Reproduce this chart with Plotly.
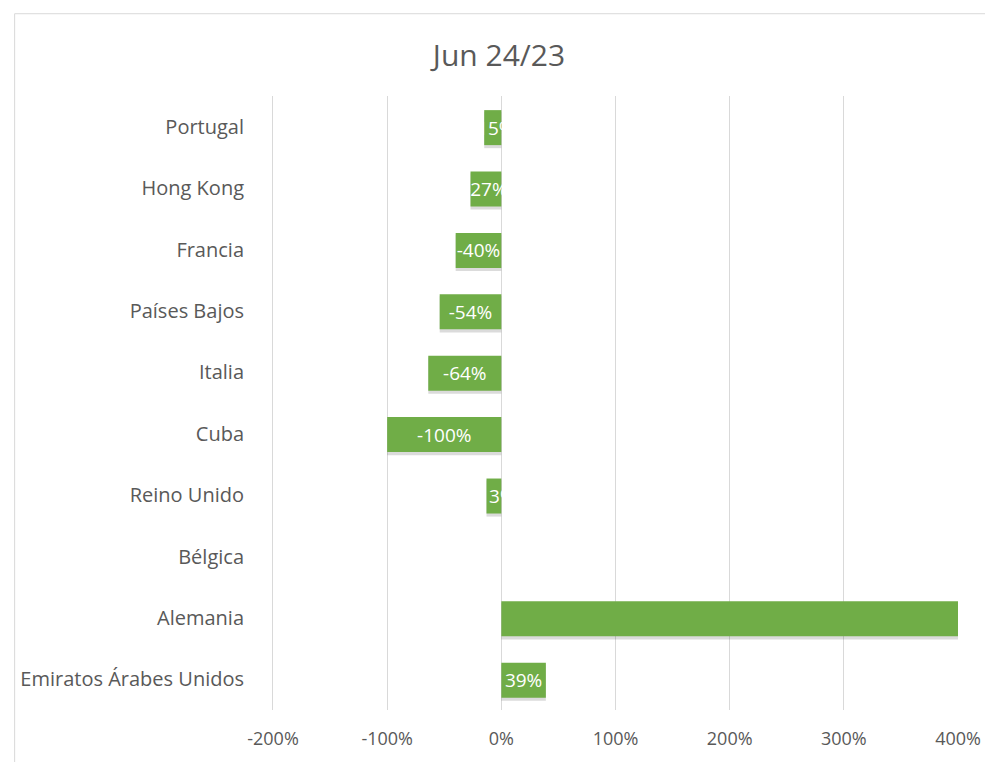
import plotly.graph_objects as go

# Jun 24/23 - variación por país (%)
paises = [
    "Emiratos Árabes Unidos",
    "Alemania",
    "Bélgica",
    "Reino Unido",
    "Cuba",
    "Italia",
    "Países Bajos",
    "Francia",
    "Hong Kong",
    "Portugal",
]
variacion = [39, 560, 0, -13, -100, -64, -54, -40, -27, -15]

ticks_x = [-200, -100, 0, 100, 200, 300, 400]
ticks_x_texto = ["-200%", "-100%", "0%", "100%", "200%", "300%", "400%"]

eje_min = -200
eje_max = 400

etiquetas = [f"{v}%" if eje_min < v < eje_max else "" for v in variacion]

fuente = "Open Sans"

fig = go.Figure()

# sombra
fig.add_trace(go.Bar(
    y=paises,
    x=variacion,
    orientation="h",
    width=0.59,
    offset=-0.35,
    marker=dict(color="rgba(0,0,0,0.14)", line=dict(width=0)),
    hoverinfo="skip",
    showlegend=False,
))

fig.add_trace(go.Bar(
    y=paises,
    x=variacion,
    orientation="h",
    width=0.57,
    offset=-0.3,
    text=etiquetas,
    textposition="inside",
    insidetextanchor="middle",
    textangle=0,
    textfont=dict(color="white", size=19, family=fuente),
    marker=dict(color="#70AD47", line=dict(width=0)),
    showlegend=False,
))

fig.update_layout(
    width=985,
    height=754,
    barmode="overlay",
    paper_bgcolor="white",
    plot_bgcolor="white",
    margin=dict(l=261, r=32, t=88, b=44),
    title=dict(
        text="Jun 24/23",
        x=(499 - 8) / 985,
        xanchor="center",
        y=1 - (55 - 8) / 754,
        yanchor="middle",
        font=dict(family=fuente, size=30, color="#595959"),
    ),
    font=dict(family=fuente, size=18, color="#595959"),
    uniformtext_minsize=19,
    uniformtext_mode="show",
    xaxis=dict(
        range=[eje_min, eje_max],
        tickvals=ticks_x,
        ticktext=ticks_x_texto,
        showgrid=True,
        gridcolor="#d9d9d9",
        gridwidth=1,
        zeroline=False,
        showline=False,
        ticks="",
        ticklabelstandoff=16,
        tickfont=dict(size=18, color="#595959"),
        fixedrange=True,
    ),
    yaxis=dict(
        categoryorder="array",
        categoryarray=paises,
        showgrid=False,
        zeroline=False,
        showline=True,
        linecolor="#d9d9d9",
        linewidth=1,
        ticks="",
        ticklabelstandoff=24,
        tickfont=dict(size=20, color="#595959"),
        fixedrange=True,
    ),
    shapes=[
        dict(type="line", xref="paper", yref="paper",
             x0=(9 - 270) / 692, x1=1.06, y0=1.134, y1=1.134,
             line=dict(color="#d9d9d9", width=1)),
        dict(type="line", xref="paper", yref="paper",
             x0=(9 - 270) / 692, x1=(9 - 270) / 692, y0=1.134, y1=-0.1,
             line=dict(color="#d9d9d9", width=1)),
    ],
)

fig.write_html("out.html")
